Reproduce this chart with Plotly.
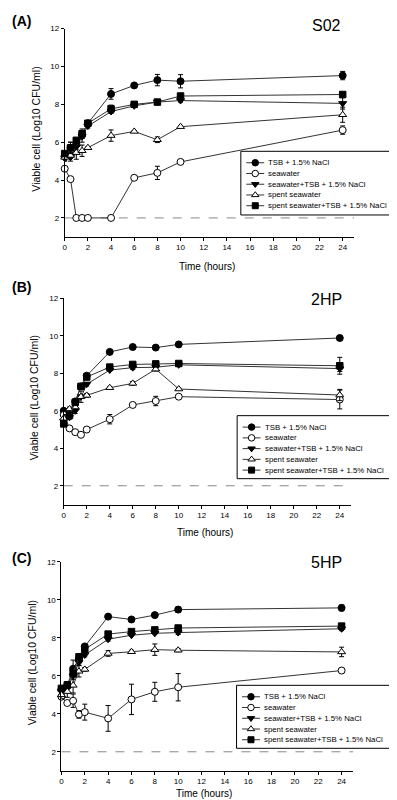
import plotly.graph_objects as go

# ---------------- data ----------------
time = [0, 0.5, 1, 1.5, 2, 4, 6, 8, 10, 24]
series_names = ["TSB + 1.5% NaCl", "seawater", "seawater+TSB + 1.5% NaCl",
                "spent seawater", "spent seawater+TSB + 1.5% NaCl"]
panel_tags = ["(A)", "(B)", "(C)"]
panel_titles = ["S02", "2HP", "5HP"]
x_ticks = [0, 2, 4, 6, 8, 10, 12, 14, 16, 18, 20, 22, 24]
y_ticks = [2, 4, 6, 8, 10, 12]
detection_limit = 2

# Panel A (S02)
tsb_A = [5.3, 5.7, 5.9, 6.4, 7.0, 8.55, 9.0, 9.28, 9.22, 9.52]
tsb_A_err = [0.1, 0.3, 0.3, 0.2, 0.1, 0.28, 0.05, 0.3, 0.35, 0.22]
sea_A = [4.6, 4.05, 2, 2, 2, 2, 4.12, 4.38, 4.96, 6.64]
sea_A_err = [0.1, 0.1, 0, 0, 0, 0, 0.1, 0.35, 0.12, 0.22]
swtsb_A = [5.15, 5.2, 5.75, 6.3, 6.85, 7.62, 7.92, 8.12, 8.2, 8.05]
swtsb_A_err = [0.1, 0.2, 0.4, 0.3, 0.1, 0.1, 0.05, 0.05, 0.08, 0.3]
spent_A = [5.2, 5.3, 5.45, 5.55, 5.71, 6.35, 6.57, 6.13, 6.82, 7.45]
spent_A_err = [0.2, 0.15, 0.35, 0.3, 0.05, 0.3, 0.05, 0.15, 0.05, 0.4]
spsw_A = [5.4, 5.7, 6.1, 6.45, 7.0, 7.76, 8.0, 8.12, 8.44, 8.52]
spsw_A_err = [0.1, 0.3, 0.1, 0.25, 0.1, 0.2, 0.08, 0.05, 0.1, 0.1]

# Panel B (2HP)
tsb_B = [6.0, 5.9, 6.5, 7.3, 7.87, 9.14, 9.4, 9.37, 9.54, 9.88]
tsb_B_err = [0.05, 0.1, 0.1, 0.1, 0.05, 0.05, 0.05, 0.05, 0.05, 0.05]
sea_B = [5.78, 5.06, 4.86, 4.72, 5.0, 5.55, 6.31, 6.52, 6.75, 6.6]
sea_B_err = [0.05, 0.05, 0.05, 0.1, 0.05, 0.25, 0.05, 0.25, 0.08, 0.5]
swtsb_B = [5.45, 5.65, 6.0, 6.75, 7.42, 8.17, 8.3, 8.32, 8.45, 8.25]
swtsb_B_err = [0.1, 0.1, 0.15, 0.1, 0.1, 0.05, 0.1, 0.05, 0.05, 0.15]
spent_B = [5.6, 6.1, 6.2, 6.75, 6.82, 7.23, 7.46, 8.22, 7.16, 6.84]
spent_B_err = [0.2, 0.1, 0.15, 0.3, 0.1, 0.05, 0.1, 0.1, 0.05, 0.3]
spsw_B = [5.3, 5.75, 6.45, 7.3, 7.8, 8.33, 8.47, 8.5, 8.52, 8.4]
spsw_B_err = [0.1, 0.1, 0.1, 0.1, 0.05, 0.05, 0.05, 0.05, 0.05, 0.45]

# Panel C (5HP)
tsb_C = [5.3, 5.5, 6.38, 6.9, 7.55, 9.12, 8.97, 9.2, 9.49, 9.58]
tsb_C_err = [0.2, 0.2, 0.45, 0.2, 0.1, 0.1, 0.05, 0.05, 0.15, 0.15]
sea_C = [4.9, 4.57, 4.69, 3.97, 4.09, 3.76, 4.76, 5.16, 5.4, 6.28]
sea_C_err = [0.1, 0.1, 0.35, 0.2, 0.42, 0.68, 0.8, 0.5, 0.72, 0.08]
swtsb_C = [5.17, 5.34, 6.0, 6.7, 7.1, 7.93, 8.14, 8.24, 8.28, 8.48]
swtsb_C_err = [0.15, 0.2, 0.2, 0.15, 0.1, 0.1, 0.05, 0.05, 0.1, 0.1]
spent_C = [5.0, 5.17, 5.5, 6.24, 6.34, 7.18, 7.27, 7.38, 7.35, 7.26]
spent_C_err = [0.2, 0.3, 0.4, 0.3, 0.1, 0.15, 0.08, 0.3, 0.08, 0.25]
spsw_C = [5.34, 5.52, 6.12, 7.0, 7.4, 8.2, 8.33, 8.42, 8.52, 8.62]
spsw_C_err = [0.1, 0.15, 0.15, 0.15, 0.15, 0.1, 0.08, 0.05, 0.05, 0.08]

panels = [
    [(tsb_A, tsb_A_err), (sea_A, sea_A_err), (swtsb_A, swtsb_A_err), (spent_A, spent_A_err), (spsw_A, spsw_A_err)],
    [(tsb_B, tsb_B_err), (sea_B, sea_B_err), (swtsb_B, swtsb_B_err), (spent_B, spent_B_err), (spsw_B, spsw_B_err)],
    [(tsb_C, tsb_C_err), (sea_C, sea_C_err), (swtsb_C, swtsb_C_err), (spent_C, spent_C_err), (spsw_C, spsw_C_err)],
]

# ---------------- style ----------------
W, H = 397, 800
FONT = "Liberation Sans, Arial, sans-serif"
LINE_COL = "#333333"
symbols = ["circle", "circle", "triangle-down", "triangle-up", "square"]
fills = ["black", "white", "black", "white", "black"]
msizes = [7, 7, 7, 7, 6.5]

# plot areas in pixels: (left, right, top, bottom)
areas = [(55, 346, 16.7, 226.0), (54, 343, 287.7, 495.0), (51.7, 345, 552.7, 762.6)]
legend_boxes = [(232, 388, 140, 204), (228.3, 390, 405.7, 469), (227.7, 388.3, 676.7, 740)]
tag_pos = [(12, 9), (12, 276), (12, 549)]
title_pos = [(318, 14), (318, 288.5), (318, 553)]
xtitle_y = [256, 523, 785]
ytitle_x = [26, 25, 23]

fig = go.Figure()
layout = dict(width=W, height=H, autosize=False, margin=dict(l=0, r=0, t=0, b=0),
              paper_bgcolor="white", plot_bgcolor="rgba(0,0,0,0)", showlegend=False,
              font=dict(family=FONT, color="black"))

annotations = []
shapes = []

for p, (series, area) in enumerate(zip(panels, areas)):
    sfx = "" if p == 0 else str(p + 1)
    l, r, t, b = area
    layout["xaxis" + sfx] = dict(
        domain=[l / W, r / W], range=[0, 25], tickvals=x_ticks, ticks="outside", ticklen=3,
        tickwidth=1, tickcolor="black", showline=True, linecolor="black", linewidth=1,
        showgrid=False, zeroline=False, tickfont=dict(size=8, family=FONT),
        anchor="y" + sfx)
    layout["yaxis" + sfx] = dict(
        domain=[1 - b / H, 1 - t / H], range=[1, 12], tickvals=y_ticks, ticks="outside", ticklen=3,
        tickwidth=1, tickcolor="black", showline=True, linecolor="black", linewidth=1,
        showgrid=False, zeroline=False, tickfont=dict(size=8, family=FONT),
        anchor="x" + sfx)
    shapes.append(dict(type="line", xref="x" + sfx, yref="y" + sfx, x0=0, x1=25,
                       y0=detection_limit, y1=detection_limit,
                       line=dict(color="#888888", width=1, dash="dash"), layer="below"))
    for (vals, errs), sym, fc, ms, name in zip(series, symbols, fills, msizes, series_names):
        fig.add_trace(go.Scatter(
            x=time, y=vals, mode="lines+markers", name=name,
            xaxis="x" + sfx, yaxis="y" + sfx, cliponaxis=False,
            line=dict(color=LINE_COL, width=1),
            marker=dict(symbol=sym, size=ms, color=fc, line=dict(color="black", width=1)),
            error_y=dict(type="data", array=errs, visible=True, color="black",
                         thickness=1, width=2.5)))

    # panel texts (pixel coordinates on overlay axis)
    annotations.append(dict(xref="x4", yref="y4", x=tag_pos[p][0], y=tag_pos[p][1],
                            text="<b>" + panel_tags[p] + "</b>", showarrow=False,
                            font=dict(size=14, family=FONT)))
    annotations.append(dict(xref="x4", yref="y4", x=title_pos[p][0], y=title_pos[p][1],
                            text=panel_titles[p], showarrow=False,
                            font=dict(size=16, family=FONT)))
    annotations.append(dict(xref="x4", yref="y4", x=(l + r) / 2 - 3, y=xtitle_y[p],
                            text="Time (hours)", showarrow=False,
                            font=dict(size=10, family=FONT)))
    annotations.append(dict(xref="x4", yref="y4", x=ytitle_x[p], y=(t + b) / 2 - 4,
                            text="Viable cell (Log10 CFU/ml)", showarrow=False, textangle=-90,
                            font=dict(size=10.5, family=FONT)))

    # custom legend box
    bl, br, bt, bb = legend_boxes[p]
    shapes.append(dict(type="rect", xref="x4", yref="y4", x0=bl, x1=br, y0=bt, y1=bb,
                       line=dict(color="black", width=1), fillcolor="rgba(0,0,0,0)", layer="above"))

# legend entries
for i, (sym, fc, ms, name) in enumerate(zip(symbols, fills, msizes, series_names)):
    lx, ly, mx, my = [], [], [], []
    for p in range(3):
        bl, br, bt, bb = legend_boxes[p]
        ey = bt + 11.5 + i * 10.8
        lx += [bl + 5.5, bl + 23.5, None]
        ly += [ey, ey, None]
        mx.append(bl + 14.5)
        my.append(ey)
        annotations.append(dict(xref="x4", yref="y4", x=bl + 25.5, y=ey, xanchor="left",
                                yanchor="middle", text=name, showarrow=False,
                                font=dict(size=7.8, family=FONT)))
    fig.add_trace(go.Scatter(x=lx, y=ly, mode="lines", xaxis="x4", yaxis="y4",
                             hoverinfo="skip", line=dict(color=LINE_COL, width=1)))
    fig.add_trace(go.Scatter(x=mx, y=my, mode="markers", xaxis="x4", yaxis="y4",
                             hoverinfo="skip",
                             marker=dict(symbol=sym, size=ms - 0.5, color=fc,
                                         line=dict(color="black", width=1))))

layout["xaxis4"] = dict(domain=[0, 1], range=[0, W], visible=False, fixedrange=True, anchor="y4")
layout["yaxis4"] = dict(domain=[0, 1], range=[H, 0], visible=False, fixedrange=True, anchor="x4")
layout["annotations"] = annotations
layout["shapes"] = shapes
fig.update_layout(**layout)

fig.write_html("out.html")
